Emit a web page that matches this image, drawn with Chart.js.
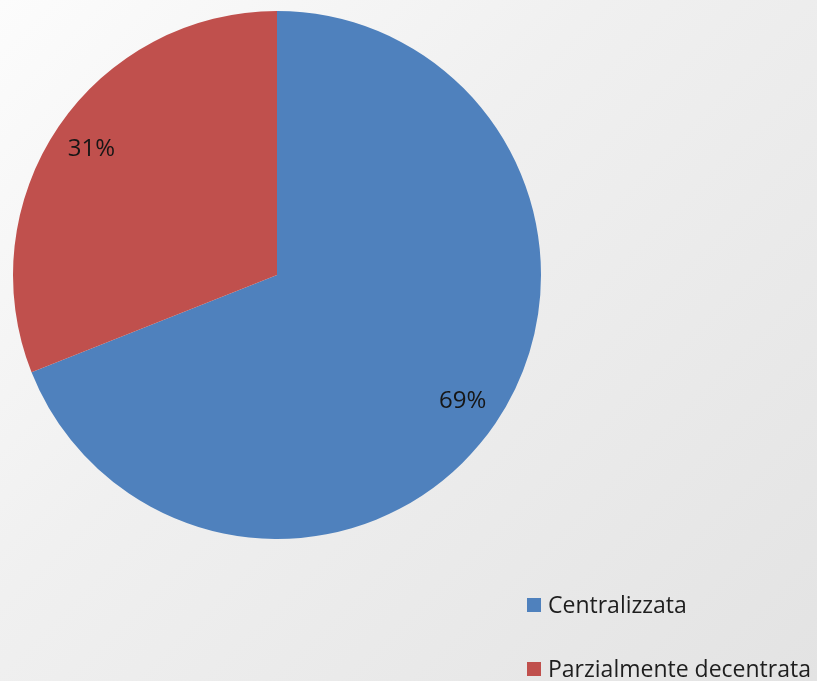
<!DOCTYPE html>
<html>
<head>
<meta charset="utf-8">
<script src="https://cdn.jsdelivr.net/npm/chart.js@4"></script>
<style>
  html, body { margin: 0; padding: 0; }
  body {
    width: 817px; height: 681px; overflow: hidden; position: relative;
    background: linear-gradient(135deg, #fcfcfc 0%, #f0f0f0 40%, #e3e3e3 100%);
    font-family: "Open Sans", "Liberation Sans", sans-serif;
  }
  #wrap { position: absolute; left: 0; top: 0; width: 817px; height: 681px; }
  .leg { position: absolute; left: 527px; font-size: 23px; color: #1e1e1e; white-space: nowrap; line-height: 1; }
  .leg span.box { display: inline-block; width: 14px; height: 14px; margin-right: 7px; vertical-align: 1px; }
</style>
</head>
<body>
<div id="wrap"><canvas id="myChart" width="817" height="681"></canvas></div>
<div id="legend"></div>
<script>
var labels = ['Centralizzata', 'Parzialmente decentrata'];
var values = [69, 31];
var colors = ['#4f81bd', '#c0504d'];

// percent labels inside the slices
var pctLabels = {
  id: 'pctLabels',
  afterDatasetsDraw: function (chart) {
    var ctx = chart.ctx;
    var meta = chart.getDatasetMeta(0);
    var total = values.reduce(function (a, b) { return a + b; }, 0);
    ctx.save();
    ctx.font = '24px "Open Sans", "Liberation Sans", sans-serif';
    ctx.fillStyle = '#161616';
    ctx.textAlign = 'center';
    ctx.textBaseline = 'middle';
    meta.data.forEach(function (arc, i) {
      var p = arc.getProps(['x', 'y', 'startAngle', 'endAngle', 'outerRadius']);
      var mid = (p.startAngle + p.endAngle) / 2;
      var r = p.outerRadius * 0.85;
      var txt = Math.round(values[i] / total * 100) + '%';
      ctx.fillText(txt, p.x + Math.cos(mid) * r, p.y + Math.sin(mid) * r);
    });
    ctx.restore();
  }
};

var ctx = document.getElementById('myChart').getContext('2d');
var chart = new Chart(ctx, {
  type: 'pie',
  data: {
    labels: labels,
    datasets: [{
      data: values,
      backgroundColor: colors,
      borderWidth: 0
    }]
  },
  options: {
    responsive: false,
    animation: false,
    layout: { padding: { left: 13, right: 276, top: 11, bottom: 142 } },
    plugins: {
      legend: { display: false },
      tooltip: { enabled: false }
    }
  },
  plugins: [pctLabels]
});

// legend on the right bottom
var legTops = [593, 657];
var legend = document.getElementById('legend');
labels.forEach(function (l, i) {
  var d = document.createElement('div');
  d.className = 'leg';
  d.style.top = legTops[i] + 'px';
  d.innerHTML = '<span class="box" style="background:' + colors[i] + '"></span>' + l;
  legend.appendChild(d);
});
</script>
</body>
</html>
